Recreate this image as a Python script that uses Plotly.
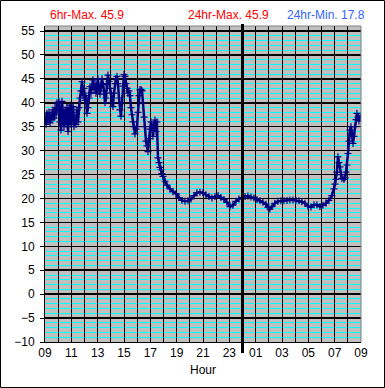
import plotly.graph_objects as go

# hours elapsed since 09:00
hours = [0.00, 0.08, 0.15, 0.23, 0.30, 0.38, 0.46, 0.53, 0.61, 0.68, 0.76, 0.84, 0.91, 0.99,
         1.06, 1.14, 1.21, 1.29, 1.37, 1.44, 1.52, 1.59, 1.67, 1.75, 1.82, 1.90, 1.97,
         2.05, 2.13, 2.20, 2.28, 2.35, 2.43, 2.51, 2.58, 2.66, 2.73, 2.81, 2.89, 2.96,
         3.04, 3.11, 3.19, 3.26, 3.34, 3.42, 3.49, 3.57, 3.64, 3.72, 3.80, 3.87, 3.95,
         4.02, 4.10, 4.18, 4.25, 4.33, 4.40, 4.48, 4.56, 4.63, 4.71, 4.78, 4.86, 4.94,
         5.01, 5.09, 5.16, 5.24, 5.32, 5.39, 5.47, 5.54, 5.62, 5.69, 5.77, 5.85, 5.92,
         6.00, 6.07, 6.15, 6.23, 6.30, 6.38, 6.45, 6.53, 6.61, 6.68, 6.76, 6.83, 6.91, 6.99,
         7.06, 7.14, 7.21, 7.29, 7.37, 7.44, 7.52, 7.59, 7.67, 7.74, 7.82, 7.90, 7.97,
         8.05, 8.12, 8.20, 8.28, 8.35, 8.43, 8.50, 8.58, 8.66, 8.73, 8.81, 8.88, 8.96,
         9.11, 9.26, 9.49, 9.72, 9.95, 10.17, 10.40, 10.63, 10.86, 11.09, 11.31, 11.54,
         11.77, 12.00, 12.22, 12.45, 12.68, 12.91, 13.14, 13.36, 13.59, 13.82, 14.05,
         14.27, 14.50, 14.73, 14.96, 15.19, 15.41, 15.64, 15.87, 16.10, 16.32, 16.55,
         16.78, 16.93, 17.08, 17.24, 17.46, 17.69, 17.92, 18.15, 18.38, 18.60, 18.83,
         19.06, 19.29, 19.51, 19.74, 19.97, 20.20, 20.43, 20.65, 20.88, 21.11, 21.34,
         21.56, 21.79, 21.94, 22.02, 22.10, 22.17, 22.25, 22.33, 22.40, 22.48, 22.55,
         22.70, 22.78, 22.86, 22.93, 23.01, 23.09, 23.16, 23.24, 23.31, 23.39, 23.46,
         23.54, 23.62, 23.69, 23.77, 23.84, 23.92, 24.00]

temps = [37.0, 35.5, 37.8, 36.2, 38.0, 35.8, 37.5, 36.5, 38.5, 36.8, 39.0, 37.5, 40.0, 38.5,
         40.2, 36.0, 34.3, 40.3, 37.0, 35.0, 38.5, 35.5, 39.0, 34.0, 37.5, 39.5, 35.5,
         38.0, 39.2, 35.0, 37.0, 35.5, 38.5, 36.0, 39.0, 41.0, 42.5, 44.4, 41.5, 43.0,
         40.5, 41.5, 37.8, 39.0, 41.0, 43.4, 42.0, 43.5, 44.8, 42.8, 44.0, 42.0, 43.5,
         45.0, 43.0, 41.8, 43.5, 45.0, 43.8, 42.5, 40.0, 41.0, 44.0, 45.8, 44.5, 43.0,
         42.0, 40.0, 39.2, 42.0, 44.0, 45.0, 45.5, 44.0, 41.0, 38.5, 37.2, 40.0, 43.5,
         45.9, 45.5, 44.0, 43.0, 42.0, 42.5, 41.5, 39.0, 37.5, 36.0, 35.0, 33.5, 34.5, 35.0,
         38.0, 41.5, 42.7, 42.8, 42.5, 40.0, 37.0, 35.0, 32.0, 31.0, 29.8, 32.5, 34.5,
         36.0, 35.0, 33.0, 35.5, 36.4, 34.0, 36.0, 28.5, 27.5, 26.5, 26.0, 25.2, 24.6,
         23.6, 22.8, 22.0, 21.4, 21.0, 20.2, 19.6, 19.4, 19.5, 19.9, 20.6, 21.2,
         21.3, 21.2, 20.8, 20.4, 20.1, 20.4, 20.6, 20.2, 19.8, 19.2, 18.3,
         18.6, 19.4, 19.9, 20.2, 20.4, 20.5, 20.3, 20.1, 19.8, 19.5, 19.2,
         18.8, 18.2, 17.8, 18.3, 19.0, 19.4, 19.5, 19.5, 19.6, 19.7, 19.7,
         19.6, 19.5, 19.3, 19.0, 18.4, 18.2, 18.7, 18.7, 18.3, 18.6, 19.0,
         19.6, 20.6, 22.0, 23.0, 24.0, 25.5, 28.7, 27.5, 26.6, 25.0, 24.2,
         24.0, 24.3, 25.5, 27.0, 29.4, 32.0, 34.3, 35.0, 33.5, 31.5, 33.0,
         35.0, 36.5, 37.8, 37.0, 36.2, 36.8, 37.2]

tick_hours = list(range(0, 25))
tick_labels = ["09", "", "11", "", "13", "", "15", "", "17", "", "19", "", "21", "",
               "23", "", "01", "", "03", "", "05", "", "07", "", "09"]

titles = ["6hr-Max. 45.9", "24hr-Max. 45.9", "24hr-Min. 17.8"]
title_colors = ["#ff0000", "#ff0000", "#3366ff"]
title_x = [87, 228, 326]

FONT = "Liberation Sans, Arial, sans-serif"
W, H = 385, 388
ML, MR, MT, MB = 45, 24, 26, 46
PW, PH = W - ML - MR, H - MT - MB

fig = go.Figure()
fig.add_trace(go.Scatter(
    x=hours, y=temps, mode="lines+markers",
    line=dict(color="#000080", width=2.5),
    marker=dict(symbol="cross-thin", size=5, line=dict(color="#000080", width=1.2)),
    showlegend=False, hoverinfo="skip"))

fig.update_layout(
    template="none",
    width=W, height=H,
    margin=dict(l=ML, r=MR, t=MT, b=MB),
    paper_bgcolor="white", plot_bgcolor="#c0c0c0",
    font=dict(family=FONT, size=12, color="black"),
    xaxis=dict(range=[0, 24], tickmode="array", tickvals=tick_hours, ticktext=tick_labels,
               showgrid=True, gridcolor="black", gridwidth=1,
               minor=dict(showgrid=False, ticks=""),
               ticks="", zeroline=False, showline=True, linecolor="black", linewidth=1,
               tickfont=dict(size=12),
               title=dict(text="Hour", font=dict(size=12), standoff=6)),
    yaxis=dict(range=[-10, 56.05], tickmode="linear", tick0=-10, dtick=5,
               showgrid=True, gridcolor="black", gridwidth=1.5,
               minor=dict(dtick=1, tick0=0, showgrid=True, gridcolor="#00ffff", gridwidth=1),
               ticks="outside", ticklen=4, tickcolor="black", zeroline=False,
               showline=True, linecolor="black", linewidth=1, tickfont=dict(size=12),
               ticklabelstandoff=3),
)

# plot area border (top/right gray)
fig.add_shape(type="line", xref="paper", yref="paper", x0=0, x1=1, y0=1, y1=1,
              line=dict(color="#808080", width=1))
fig.add_shape(type="line", xref="paper", yref="paper", x0=1, x1=1, y0=0, y1=1,
              line=dict(color="#808080", width=1))
# midnight marker line
fig.add_shape(type="line", xref="x", yref="paper", x0=15, x1=15,
              y0=-11 / PH, y1=1 + 2 / PH, line=dict(color="black", width=3))
# outer figure border
fig.add_shape(type="rect", xref="paper", yref="paper",
              x0=-(ML - 0.5) / PW, x1=1 + (MR - 0.5) / PW,
              y0=-(MB - 0.5) / PH, y1=1 + (MT - 0.5) / PH,
              line=dict(color="black", width=1))

for t, c, xp in zip(titles, title_colors, title_x):
    fig.add_annotation(text=t, xref="paper", yref="paper",
                       x=(xp - ML) / PW, y=1 + (MT - 15) / PH,
                       showarrow=False, xanchor="center", yanchor="middle",
                       font=dict(color=c, size=12, family=FONT))

fig.write_html("out.html", config={"displayModeBar": False, "staticPlot": True},
               post_script="document.body.style.margin='0';")
